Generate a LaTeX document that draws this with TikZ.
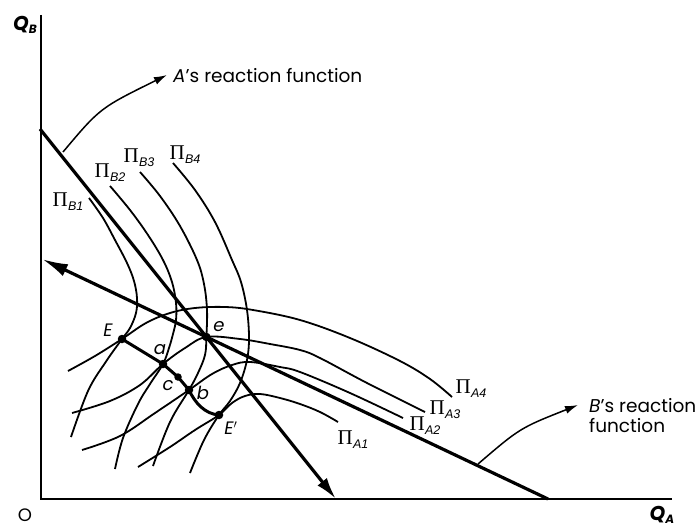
\documentclass[tikz,border=0pt]{standalone}
\usepackage{fontspec}
\setmainfont{Poppins}
\newfontfamily\grk{Liberation Serif}
\newfontfamily\subf{Liberation Sans}
\usetikzlibrary{arrows.meta}
\newcommand{\PiL}[2]{{\grk\fontsize{21}{21}\selectfont Π}\kern0.3pt\raisebox{-4pt}{\subf\fontsize{12.5}{12.5}\selectfont\itshape #1#2}}
\begin{document}
\begin{tikzpicture}[x=1pt,y=-1pt,
  axis/.style={line width=2.3pt},
  react/.style={line width=3.2pt},
  iso/.style={line width=1.8pt},
  ccurve/.style={line width=3pt,line join=round},
  dot/.style={circle,fill=black,inner sep=0pt,minimum size=8.5pt},
  lab/.style={font=\fontsize{18}{18}\selectfont\itshape,inner sep=0pt},
  pil/.style={inner sep=0pt},
  txt/.style={font=\fontsize{18.5}{20}\selectfont,inner sep=0pt,align=left},
  lead/.style={line width=1.5pt,-{Latex[length=13pt,width=8pt]}},
]
\useasboundingbox (0,0) rectangle (700,529);
% axes
\coordinate (O) at (41,499);
\coordinate (Ytop) at (41,15);
\coordinate (Xend) at (672,499);
\draw[axis] (Ytop) -- (O) -- (Xend);
\node[lab,font=\fontsize{20}{20}\selectfont\bfseries\itshape] (QB) at (25,25) {Q\raisebox{-3pt}{\fontsize{12}{12}\selectfont B}};
\node[lab,font=\fontsize{20}{20}\selectfont\bfseries\itshape] (QA) at (662,515) {Q\raisebox{-3pt}{\fontsize{12}{12}\selectfont A}};
\node[inner sep=0pt,font=\fontsize{18}{18}\selectfont] (Olab) at (25,515) {O};
% reaction functions
\coordinate (A1) at (40,129);
\coordinate (A2) at (336,499);
\coordinate (B1) at (42,259);
\coordinate (B2) at (548,499);
\coordinate (pe) at (intersection of A1--A2 and B1--B2);
% key points
\coordinate (pE) at (122,339);
\coordinate (pa) at (163,364);
\coordinate (pc) at (178,377);
\coordinate (pb) at (189,390);
\coordinate (pEp) at (219,415);
% B isoprofit curves
\draw[iso] plot[smooth,tension=0.6] coordinates {(89,198) (103,218) (115,240) (127,263) (134,281) (137,298) (136,313) (130,328) (pE) (105,363) (88,391) (71,437)};
\draw[iso] plot[smooth,tension=0.6] coordinates {(110,186) (130,210) (148,235) (163,260) (172,282) (176,303) (176,320) (173,334) (169,348) (pa) (150,384) (138,404) (123,438) (115,469)};
\draw[iso] plot[smooth,tension=0.6] coordinates {(140,172) (160,196) (180,226) (197,260) (204,284) (207,310) (pe) (205,355) (198,373) (pb) (170,422) (153,466)};
\draw[iso] plot[smooth,tension=0.6] coordinates {(173,163) (195,190) (215,222) (232,260) (241,282) (247,310) (249,338) (247,360) (240,383) (230,401) (pEp) (204,440) (190,473)};
% A isoprofit curves
\draw[iso] plot[smooth,tension=0.6] coordinates {(68,371) (95,356) (pE) (146,323) (170,313) (195,308) (225,307) (253,310) (300,320) (350,338) (400,361) (430,379) (452,397)};
\draw[iso] plot[smooth,tension=0.6] coordinates {(72,413) (110,401) (140,385) (pa) (185,348) (pe) (240,339) (270,344) (300,350) (320,358) (367,383) (425,412)};
\draw[iso] plot[smooth,tension=0.6] coordinates {(82,450) (120,436) (155,413) (pb) (212,374) (232,365) (250,362) (280,367) (300,372) (350,393) (403,418)};
\draw[iso] plot[smooth,tension=0.6] coordinates {(138,467) (170,447) (195,430) (pEp) (232,403) (245,396) (260,394) (280,398) (300,404) (320,412) (338,422)};
% reaction lines
\draw[react,-{Latex[length=22pt,width=12pt]}] (A1) -- (A2);
\draw[react,{Latex[length=26pt,width=13pt]}-] (B1) -- (B2);
% contract curve
\draw[ccurve] (pE) -- (pa) -- (pc) -- (pb) .. controls (195,403) and (205,414) .. (pEp);
% dots
\node[dot] (E) at (pE) {};
\node[dot] (a) at (pa) {};
\node[dot,minimum size=7.5pt] (c) at (pc) {};
\node[dot] (b) at (pb) {};
\node[dot] (Ep) at (pEp) {};
\node[dot] (e) at (pe) {};
% point labels
\node[lab] (Elab) at (108,330) {E};
\node[lab] (alab) at (160,350) {a};
\node[lab] (clab) at (168,386) {c};
\node[lab] (blab) at (203,393) {b};
\node[lab] (Eplab) at (231,428) {E$'$};
\node[lab] (elab) at (219,327) {e};
% isoprofit labels
\node[pil] (LB1) at (68,202) {\PiL{B}{1}};
\node[pil] (LB2) at (110,173) {\PiL{B}{2}};
\node[pil] (LB3) at (139,158) {\PiL{B}{3}};
\node[pil] (LB4) at (185,155) {\PiL{B}{4}};
\node[pil] (LA4) at (471,389) {\PiL{A}{4}};
\node[pil] (LA3) at (445,410) {\PiL{A}{3}};
\node[pil] (LA2) at (425,426) {\PiL{A}{2}};
\node[pil] (LA1) at (353,440) {\PiL{A}{1}};
% leaders
\coordinate (Alead) at (63,152);
\coordinate (Atip) at (167,75);
\draw[lead] (Alead) .. controls (100,108) .. (Atip);
\node[txt,anchor=west] (Atxt) at (173,76) {\textit{A}’s reaction function};
\coordinate (Blead) at (478,464);
\coordinate (Btip) at (578,405);
\draw[lead] (Blead) .. controls (520,428) .. (Btip);
\node[txt,anchor=west] (Btxt) at (589,416) {\textit{B}’s reaction\\function};
\end{tikzpicture}
\end{document}
